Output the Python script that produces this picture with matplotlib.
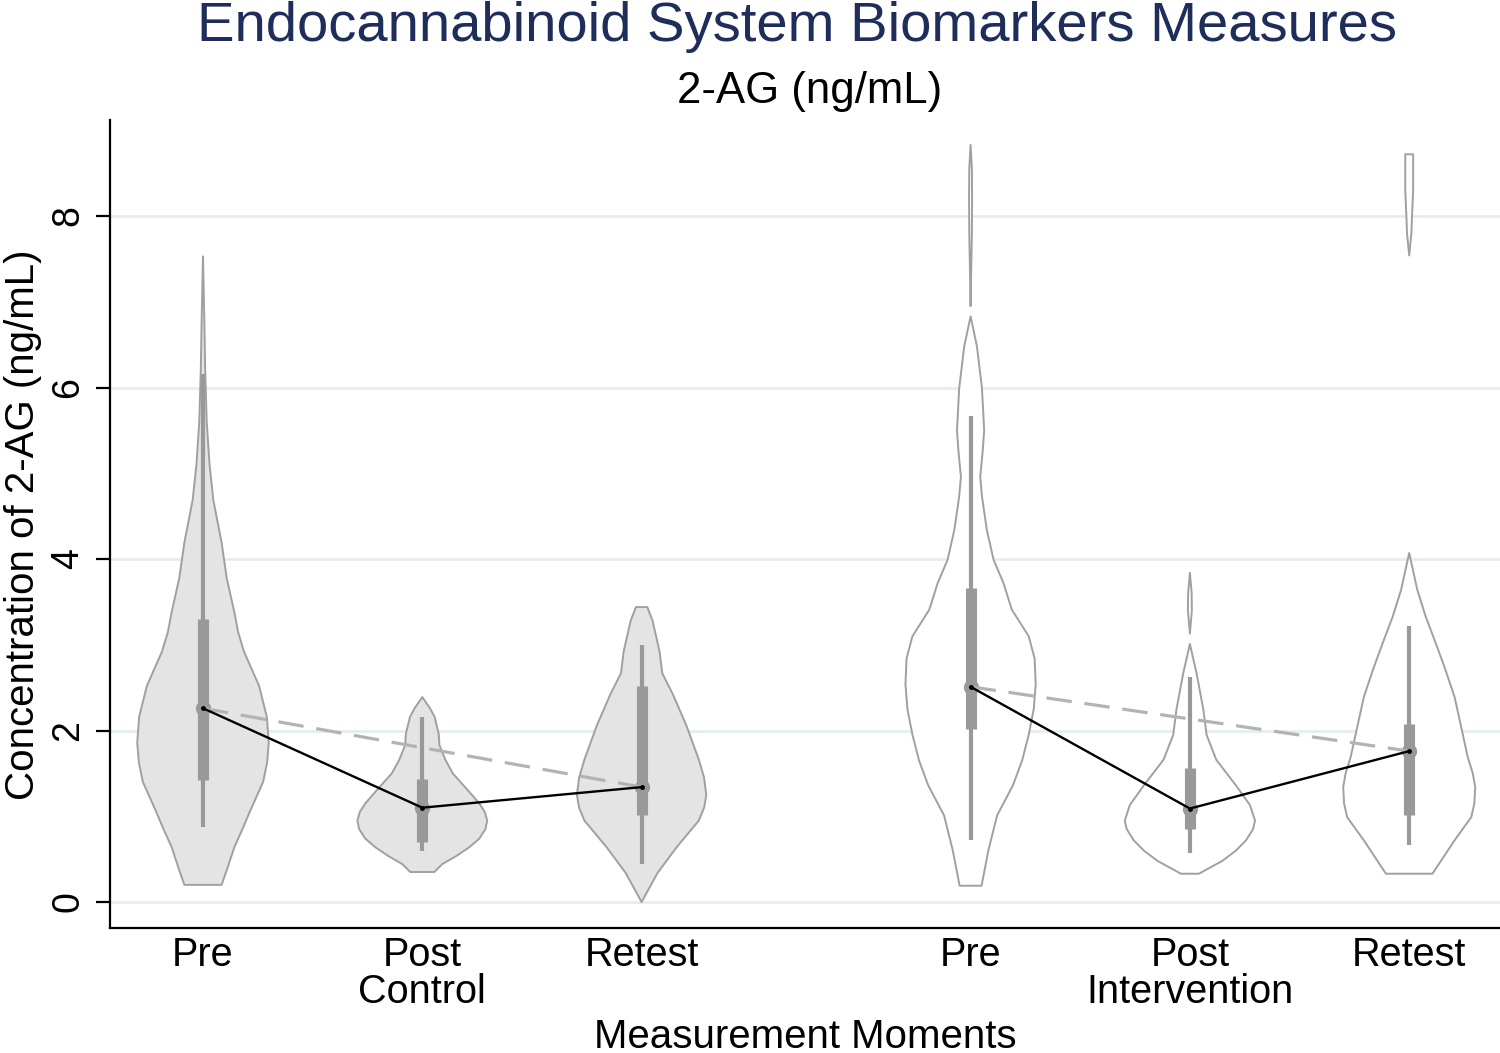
import matplotlib
matplotlib.use("Agg")
import matplotlib.pyplot as plt
import numpy as np

# ---------------- data ----------------
tick_labels = ["Pre", "Post\nControl", "Retest", "Pre", "Post\nIntervention", "Retest"]
positions = [1, 2, 3, 4.5, 5.5, 6.5]
groups = ["Control", "Control", "Control", "Intervention", "Intervention", "Intervention"]

medians = [2.26, 1.10, 1.34, 2.51, 1.09, 1.76]
q1 = [1.42, 0.70, 1.02, 2.02, 0.85, 1.01]
q3 = [3.30, 1.44, 2.52, 3.66, 1.56, 2.08]
wlo = [0.87, 0.59, 0.44, 0.72, 0.57, 0.66]
whi = [6.16, 2.16, 3.00, 5.67, 2.63, 3.22]

# violin outlines: density level (y) and half-width
v1_y = [0.20, 0.40, 0.64, 0.85, 1.05, 1.40, 1.62, 1.86, 2.16, 2.52, 2.92, 3.15, 3.38, 3.78, 4.19, 4.69, 5.10, 5.60, 6.21, 6.80, 7.53]
v1_w = [0.085, 0.112, 0.143, 0.180, 0.213, 0.274, 0.292, 0.300, 0.291, 0.256, 0.187, 0.160, 0.143, 0.108, 0.085, 0.047, 0.030, 0.017, 0.010, 0.006, 0.0]

v2_y = [0.35, 0.44, 0.54, 0.64, 0.74, 0.85, 0.95, 1.05, 1.15, 1.30, 1.50, 1.66, 1.83, 1.96, 2.16, 2.26, 2.39]
v2_w = [0.055, 0.090, 0.157, 0.215, 0.260, 0.288, 0.296, 0.285, 0.260, 0.209, 0.139, 0.105, 0.078, 0.075, 0.056, 0.035, 0.0]

v3_y = [0.0, 0.34, 0.64, 0.95, 1.10, 1.25, 1.45, 1.66, 2.06, 2.42, 2.67, 2.92, 3.28, 3.44]
v3_w = [0.0, 0.073, 0.160, 0.261, 0.285, 0.295, 0.285, 0.261, 0.204, 0.143, 0.094, 0.082, 0.050, 0.026]

v4_y = [0.19, 0.60, 1.01, 1.36, 1.65, 1.95, 2.25, 2.54, 2.84, 3.10, 3.41, 3.72, 3.99, 4.34, 4.73, 4.96, 5.25, 5.50, 5.99, 6.48, 6.83]
v4_w = [0.050, 0.081, 0.121, 0.193, 0.235, 0.265, 0.288, 0.297, 0.292, 0.265, 0.188, 0.150, 0.105, 0.074, 0.052, 0.044, 0.055, 0.062, 0.052, 0.029, 0.0]
v4b_y = [6.95, 7.40, 7.80, 8.20, 8.55, 8.83]
v4b_w = [0.0, 0.003, 0.006, 0.007, 0.006, 0.0]

v5_y = [0.33, 0.48, 0.60, 0.72, 0.85, 0.95, 1.13, 1.36, 1.66, 1.95, 2.25, 2.66, 3.01]
v5_w = [0.041, 0.148, 0.210, 0.256, 0.288, 0.297, 0.274, 0.210, 0.120, 0.076, 0.061, 0.031, 0.0]
v5b_y = [3.13, 3.40, 3.60, 3.84]
v5b_w = [0.0, 0.009, 0.008, 0.0]

v6_y = [0.33, 0.72, 0.99, 1.15, 1.34, 1.50, 1.69, 2.04, 2.39, 2.74, 3.06, 3.33, 3.64, 4.07]
v6_w = [0.106, 0.207, 0.283, 0.297, 0.301, 0.290, 0.267, 0.237, 0.207, 0.161, 0.115, 0.075, 0.037, 0.0]
v6b_y = [7.54, 7.80, 8.01, 8.30, 8.72]
v6b_w = [0.0, 0.010, 0.013, 0.018, 0.018]

violins = [
    [(v1_y, v1_w)],
    [(v2_y, v2_w)],
    [(v3_y, v3_w)],
    [(v4_y, v4_w), (v4b_y, v4b_w)],
    [(v5_y, v5_w), (v5b_y, v5b_w)],
    [(v6_y, v6_w), (v6b_y, v6b_w)],
]

yticks = [0, 2, 4, 6, 8]

# ---------------- figure ----------------
W, H = 1500, 1053
fig = plt.figure(figsize=(W / 100, H / 100), dpi=100)
ax = fig.add_axes([110 / W, 1 - 928 / H, 1390 / W, (928 - 120) / H])

reg = ["Liberation Sans", "DejaVu Sans"]

edge_col = "#a0a0a0"
box_col = "#999999"

for i, parts in enumerate(violins):
    x0 = positions[i]
    fill = "#e4e4e4" if groups[i] == "Control" else "white"
    for ys, ws in parts:
        ys = np.asarray(ys)
        ws = np.asarray(ws)
        px = np.concatenate([x0 - ws, (x0 + ws)[::-1]])
        py = np.concatenate([ys, ys[::-1]])
        ax.fill(px, py, facecolor=fill, edgecolor=edge_col, linewidth=1.4,
                joinstyle="round", zorder=2)

# boxes and whiskers
ax.vlines(positions, wlo, whi, colors=box_col, linewidth=3.0, zorder=3, capstyle="butt")
ax.vlines(positions, q1, q3, colors=box_col, linewidth=8.0, zorder=3, capstyle="butt")
ax.plot(positions, medians, linestyle="none", marker="o", markersize=10,
        markerfacecolor=box_col, markeredgecolor=box_col, zorder=4)

# connecting lines
for g in (slice(0, 3), slice(3, 6)):
    xs = positions[g]
    ms = medians[g]
    ax.plot([xs[0], xs[-1]], [ms[0], ms[-1]], color="#b3b3b3", linewidth=2.3,
            dashes=(8, 4), zorder=5)
    ax.plot(xs, ms, color="black", linewidth=1.7, zorder=6)
    ax.plot(xs, ms, linestyle="none", marker="o", markersize=2.5, color="black", zorder=7)

# axes styling
ax.set_xlim(0.576, 6.914)
ax.set_ylim(-0.303, 9.12)
ax.set_yticks(yticks)
ax.set_yticklabels([str(t) for t in yticks], family=reg, fontsize=27, rotation=90, va="center")
ax.yaxis.grid(True, color="#e5eeee", linewidth=2.0, zorder=0)
ax.set_axisbelow(True)
ax.tick_params(axis="y", length=10, width=1.6, pad=7, direction="out")

ax.set_xticks(positions)
ax.set_xticklabels(tick_labels, family=reg, fontsize=28.5, linespacing=0.95)
ax.tick_params(axis="x", length=0, pad=6)

for s in ("top", "right"):
    ax.spines[s].set_visible(False)
for s in ("left", "bottom"):
    ax.spines[s].set_linewidth(1.6)

fig.text(797 / W, 1 - 41 / H, "Endocannabinoid System Biomarkers Measures",
         family=reg, fontsize=40.5, color="#1e2d5a", ha="center", va="baseline")
fig.text(810 / W, 1 - 103 / H, "2-AG (ng/mL)", family=reg, fontsize=31.5,
         color="black", ha="center", va="baseline")
fig.text(805 / W, 1 - 1048 / H, "Measurement Moments", family=reg, fontsize=29,
         color="black", ha="center", va="baseline")
fig.text(4 / W, 1 - 525 / H, "Concentration of 2-AG (ng/mL)", family=reg,
         fontsize=29, rotation=90, ha="left", va="center")

fig.savefig("out.png", dpi=100, facecolor="white")
